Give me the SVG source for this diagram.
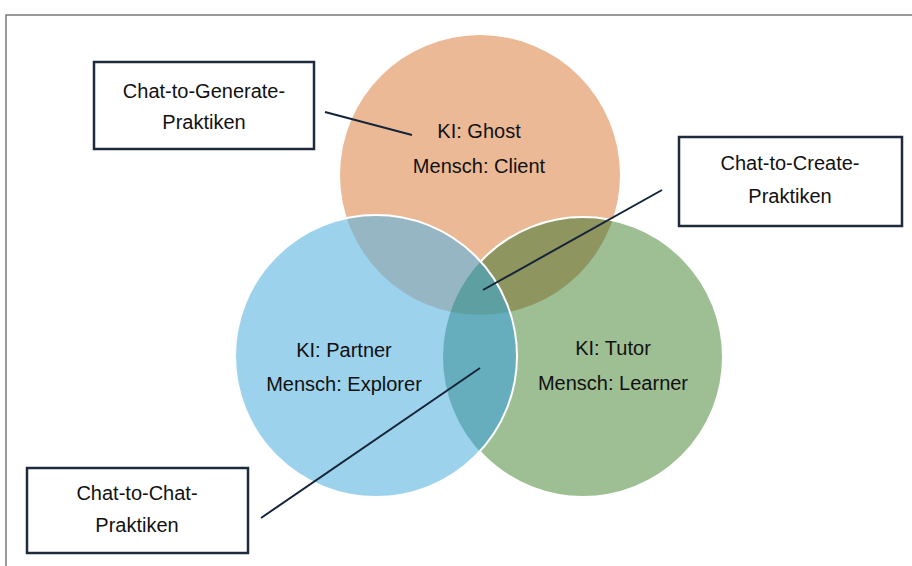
<svg xmlns="http://www.w3.org/2000/svg" width="912" height="566" viewBox="0 0 912 566">
  <style>
    .lbl { font-family: "Liberation Sans", Arial, sans-serif; font-size: 20px; fill: #111111; text-anchor: middle; }
    .box { fill: #ffffff; stroke: #1d2b3b; stroke-width: 2.5; }
    .conn { stroke: #14243a; stroke-width: 2; fill: none; }
    .frame { stroke: #7a7a7a; stroke-width: 1.5; fill: none; }
  </style>
  <defs>
    <circle id="cO" cx="480" cy="175" r="140"/>
    <circle id="cB" cx="376" cy="356" r="141"/>
    <circle id="cG" cx="583" cy="357" r="140"/>
    <clipPath id="clipG"><use href="#cG"/></clipPath>
    <clipPath id="clipB"><use href="#cB"/></clipPath>
  </defs>
  <rect x="0" y="0" width="912" height="566" fill="#ffffff"/>
  <path class="frame" d="M6 566 V15 H912"/>

  <g id="venn">
    <use href="#cO" fill="#ecb996"/>
    <use href="#cG" fill="#9dbf93"/>
    <use href="#cO" fill="#8f955f" clip-path="url(#clipG)"/>
    <use href="#cG" fill="none" stroke="#ffffff" stroke-width="2"/>
    <use href="#cB" fill="#9dd2ec"/>
    <use href="#cO" fill="#97b6c4" clip-path="url(#clipB)"/>
    <use href="#cG" fill="#66aebd" clip-path="url(#clipB)"/>
    <g clip-path="url(#clipB)">
      <use href="#cO" fill="#5e9fa2" clip-path="url(#clipG)"/>
    </g>
    <use href="#cB" fill="none" stroke="#ffffff" stroke-width="2"/>
  </g>

  <g id="ghost">
    <text class="lbl" x="479" y="138">KI: Ghost</text>
    <text class="lbl" x="479" y="173">Mensch: Client</text>
  </g>
  <g id="partner">
    <text class="lbl" x="344" y="357">KI: Partner</text>
    <text class="lbl" x="344" y="391">Mensch: Explorer</text>
  </g>
  <g id="tutor">
    <text class="lbl" x="613" y="355">KI: Tutor</text>
    <text class="lbl" x="613" y="390">Mensch: Learner</text>
  </g>

  <g id="connectors">
    <line class="conn" x1="325" y1="112" x2="412" y2="135"/>
    <line class="conn" x1="662" y1="190" x2="483" y2="290"/>
    <line class="conn" x1="261" y1="518" x2="480" y2="368"/>
  </g>

  <g id="box-generate">
    <rect class="box" x="94" y="62" width="220" height="87"/>
    <text class="lbl" x="204" y="98">Chat-to-Generate-</text>
    <text class="lbl" x="204" y="129">Praktiken</text>
  </g>
  <g id="box-create">
    <rect class="box" x="679" y="137" width="223" height="89"/>
    <text class="lbl" x="790" y="170">Chat-to-Create-</text>
    <text class="lbl" x="790" y="203">Praktiken</text>
  </g>
  <g id="box-chat">
    <rect class="box" x="27" y="468" width="221" height="85"/>
    <text class="lbl" x="137" y="500">Chat-to-Chat-</text>
    <text class="lbl" x="137" y="532">Praktiken</text>
  </g>
</svg>
